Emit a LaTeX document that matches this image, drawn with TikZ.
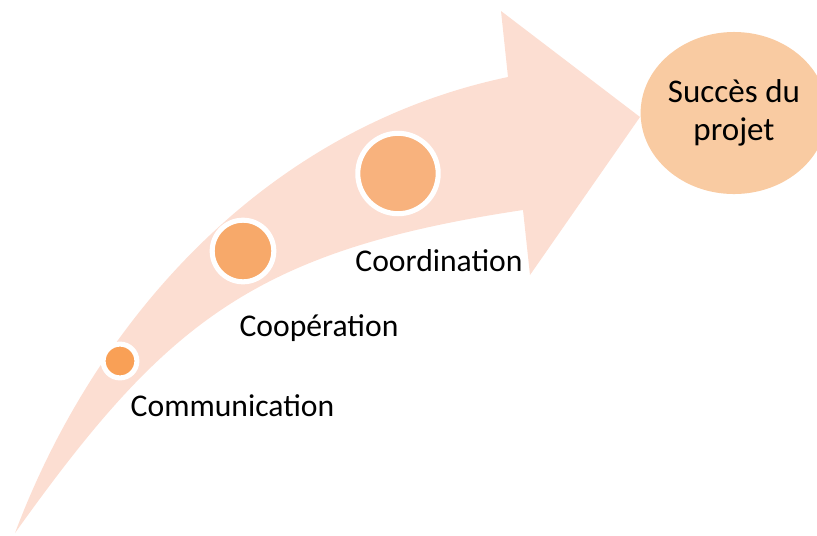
\documentclass[tikz,border=0pt]{standalone}
\usepackage{fontspec}
\setmainfont{Carlito}
\usepackage{tikz}
\usetikzlibrary{shapes.geometric}
\definecolor{bandpeach}{RGB}{252,222,210}
\definecolor{dotA}{RGB}{249,160,86}
\definecolor{dotB}{RGB}{247,169,106}
\definecolor{dotC}{RGB}{248,178,125}
\definecolor{goalpeach}{RGB}{249,203,162}
\begin{document}
\begin{tikzpicture}[x=0.025cm,y=-0.025cm,
  stepdot/.style={circle,draw=white,line width=3.6pt,inner sep=0pt},
  steplabel/.style={font=\fontsize{22.5}{26}\selectfont,inner sep=0pt},
  goal/.style={ellipse,fill=goalpeach,inner sep=0pt,align=center,
    minimum width=4.225cm,minimum height=4.05cm,font=\fontsize{23.5}{27}\selectfont}]
\useasboundingbox (0,0) rectangle (817,535);
% curved arrow
\fill[bandpeach](15,533) .. controls (95,320) and (265,128) .. (508,77)
  --(501,11)--(640,117)--(530,275)--(523,210)
  .. controls (253,250.5) and (165,323) .. (15,533)--cycle;
% steps
\node[stepdot,fill=dotA,minimum size=0.845cm] (comm) at (120,361){};
\node[stepdot,fill=dotB,minimum size=1.54cm] (coop) at (243,251){};
\node[stepdot,fill=dotC,minimum size=2.01cm] (coord) at (398,173.5){};
\node[steplabel] (commlabel) at (232.5,406){Communication};
\node[steplabel] (cooplabel) at (319,328){Coopération};
\node[steplabel] (coordlabel) at (439,261){Coordination};
% goal
\node[goal] (succes) at (734,113){Succès du\\projet};
\end{tikzpicture}
\end{document}
